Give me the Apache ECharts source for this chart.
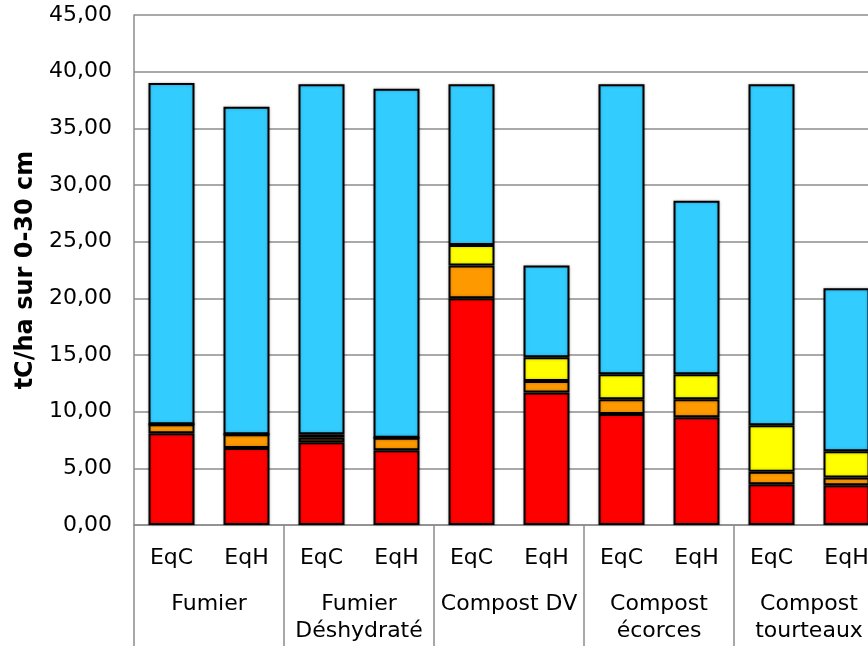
<!DOCTYPE html>
<html>
<head>
<meta charset="utf-8">
<script src="https://cdn.jsdelivr.net/npm/echarts@6/dist/echarts.min.js"></script>
<style>
  html, body { margin: 0; padding: 0; background: #fff; overflow: hidden; width: 868px; height: 646px; }
  /* the plot runs on past the right edge of the window, so the last bar is cut */
  #chart { width: 884px; height: 646px; }
</style>
</head>
<body>
<div id="chart"></div>
<script>
// Sub-categories (one bar each) and their treatment groups
const bars = ['EqC', 'EqH', 'EqC', 'EqH', 'EqC', 'EqH', 'EqC', 'EqH', 'EqC', 'EqH'];
const groups = ['Fumier', 'Fumier\nDéshydraté', 'Compost DV', 'Compost\nécorces', 'Compost\ntourteaux'];

// Stacked components, tC/ha over 0-30 cm
const redPart    = [8.1, 6.8, 7.3, 6.6, 20.0, 11.7, 9.8, 9.5, 3.6, 3.5];
const orangePart = [0.8, 1.2, 0.4, 1.1, 2.9, 1.0, 1.3, 1.6, 1.1, 0.7];
const yellowPart = [0.0, 0.0, 0.3, 0.0, 1.8, 2.1, 2.2, 2.2, 4.1, 2.3];
const bluePart   = [30.1, 28.9, 30.9, 30.8, 14.2, 8.1, 25.6, 15.3, 30.1, 14.4];

const yTicks = { min: 0, max: 45, interval: 5 };

const FONT = 'DejaVu Sans';
const GRID_GRAY = '#8c8c8c';

function seg(name, data, color) {
  return {
    name: name,
    type: 'bar',
    stack: 'total',
    data: data,
    barWidth: 46,
    itemStyle: {
      color: color,
      borderColor: '#000',
      borderWidth: 2,
      shadowColor: 'rgba(0,0,0,0.25)',
      shadowBlur: 3
    },
    emphasis: { disabled: true }
  };
}

const chart = echarts.init(document.getElementById('chart'), null, { renderer: 'canvas' });
chart.setOption({
  animation: false,
  backgroundColor: '#fff',
  grid: { left: 134, top: 15, right: 0, bottom: 121, containLabel: false },
  xAxis: [
    {
      type: 'category',
      data: bars,
      position: 'bottom',
      axisLine: { show: true, lineStyle: { color: GRID_GRAY, width: 1.5 } },
      axisTick: { show: false },
      axisLabel: { color: '#000', fontFamily: FONT, fontSize: 22, margin: 20, lineHeight: 27 },
      splitLine: { show: false }
    },
    {
      type: 'category',
      data: groups,
      position: 'bottom',
      axisLine: { show: false },
      axisTick: { show: true, length: 125, interval: 0, lineStyle: { color: GRID_GRAY, width: 1.5 } },
      axisLabel: { color: '#000', fontFamily: FONT, fontSize: 22, margin: 66, lineHeight: 27, interval: 0 },
      splitLine: { show: false }
    }
  ],
  yAxis: {
    type: 'value',
    min: yTicks.min,
    max: yTicks.max,
    interval: yTicks.interval,
    name: 'tC/ha sur 0-30 cm',
    nameLocation: 'middle',
    nameGap: 96,
    nameTextStyle: { color: '#000', fontFamily: FONT, fontSize: 24, fontWeight: 'bold' },
    axisLine: { show: true, lineStyle: { color: GRID_GRAY, width: 1.5 } },
    axisTick: { show: false },
    axisLabel: {
      color: '#000', fontFamily: FONT, fontSize: 22, margin: 22,
      formatter: v => v.toFixed(2).replace('.', ',')
    },
    splitLine: { show: true, lineStyle: { color: GRID_GRAY, width: 1.5 } }
  },
  series: [
    seg('Rouge', redPart, '#ff0000'),
    seg('Orange', orangePart, '#ff9900'),
    seg('Jaune', yellowPart, '#ffff00'),
    seg('Bleu', bluePart, '#33ccff')
  ]
});
</script>
</body>
</html>
